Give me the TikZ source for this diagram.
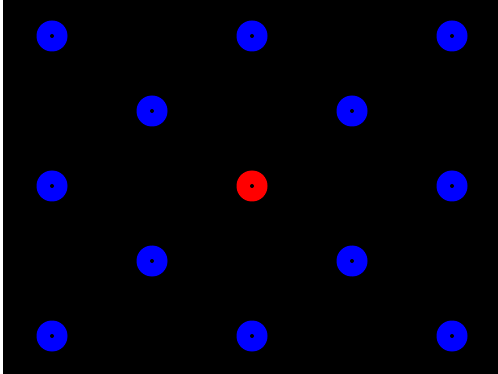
\documentclass[tikz,border=0pt]{standalone}
\begin{document}
\begin{tikzpicture}[x=1pt,y=-1pt,
  dotnode/.style={circle,fill=blue,minimum size=31pt,inner sep=0pt,draw=none},
  reddot/.style={dotnode,fill=red},
  hole/.style={circle,fill=black,minimum size=4pt,inner sep=0pt}]
\useasboundingbox (0,0) rectangle (498,374);
\fill[white] (0,0) rectangle (3,374);
\fill[black] (3,0) rectangle (498,374);
\foreach \n/\x/\y/\s in {a/52/36/dotnode,b/252/36/dotnode,c/452/36/dotnode,
  d/152/111/dotnode,e/352/111/dotnode,
  f/52/186/dotnode,g/252/186/reddot,h/452/186/dotnode,
  i/152/261/dotnode,j/352/261/dotnode,
  k/52/336/dotnode,l/252/336/dotnode,m/452/336/dotnode}{
  \node[\s] (\n) at (\x,\y) {};
  \node[hole] (\n c) at (\n.center) {};
}
\end{tikzpicture}
\end{document}
